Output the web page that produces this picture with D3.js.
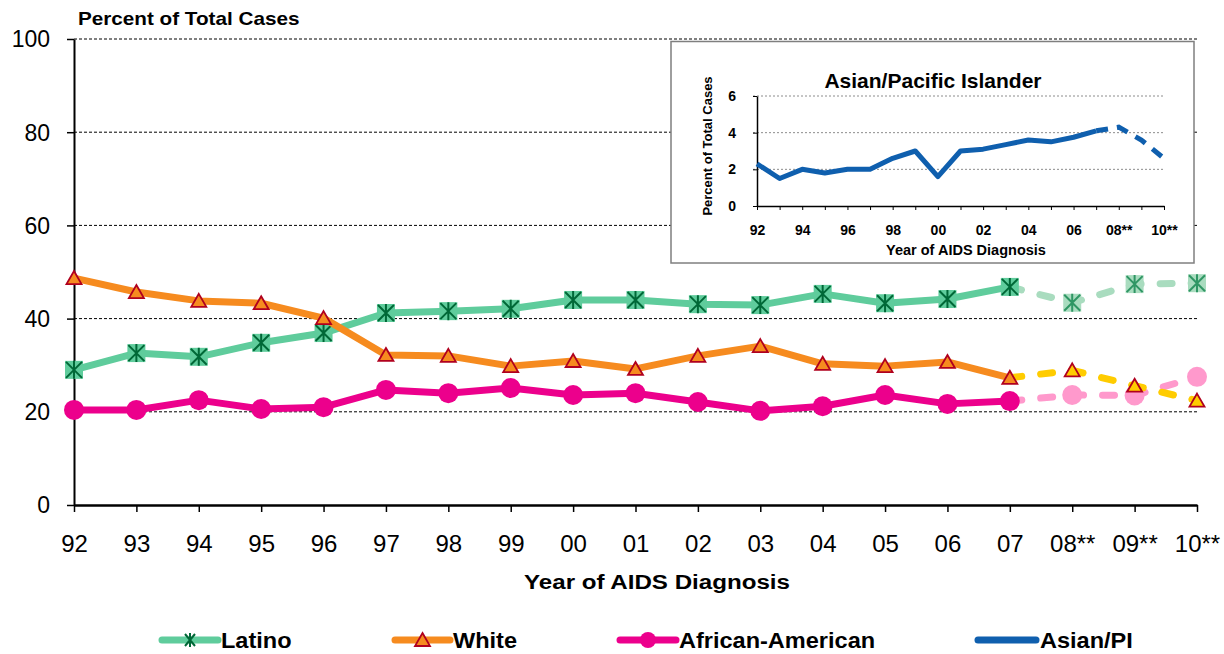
<!DOCTYPE html>
<html><head><meta charset="utf-8">
<script src="https://cdn.jsdelivr.net/npm/d3@7"></script>
<style>body{margin:0;background:#fff} svg{display:block;font-family:"Liberation Sans",Arial,sans-serif}</style>
</head><body><svg id="c" width="1224" height="654"></svg>
<script>
// ---- data ----
const years = ["92","93","94","95","96","97","98","99","00","01","02","03","04","05","06","07","08**","09**","10**"];
const latino  = [29.0,32.6,31.8,34.8,36.9,41.2,41.6,42.1,44.0,44.0,43.1,42.9,45.3,43.3,44.2,46.8,43.4,47.4,47.6];
const white   = [48.7,45.7,43.8,43.3,40.1,32.2,32.0,29.8,30.9,29.2,32.0,34.1,30.3,29.8,30.7,27.3,28.9,25.6,22.4];
const african = [20.4,20.4,22.5,20.6,21.0,24.7,24.0,25.1,23.6,24.0,22.1,20.2,21.2,23.6,21.7,22.3,23.6,23.5,27.5];
const asian   = [2.3,1.5,2.0,1.8,2.0,2.0,2.6,3.0,1.6,3.0,3.1,3.35,3.6,3.5,3.75,4.1,4.3,3.6,2.6];
const yTicks = [0,20,40,60,80,100];
const insetYTicks = [0,2,4,6];
const insetXLabels = ["92","94","96","98","00","02","04","06","08**","10**"];
const lastActual = "07";
const legendNames = ["Latino","White","African-American","Asian/PI"];

const svg = d3.select("#c");
const x = d3.scalePoint().domain(years).range([74,1197]);
const y = d3.scaleLinear().domain([0,100]).range([505,39]);

// gridlines
svg.append("g").selectAll("line").data(yTicks.filter(t=>t>0)).join("line")
  .attr("x1",74).attr("x2",1197).attr("y1",d=>y(d)).attr("y2",d=>y(d))
  .attr("stroke","#000").attr("stroke-width",1).attr("stroke-dasharray","3,2");

// axes
const yAx = svg.append("g").attr("transform","translate(74,0)")
  .call(d3.axisLeft(y).tickValues(yTicks).tickSize(7).tickSizeOuter(0).tickPadding(17));
yAx.select(".domain").attr("stroke","#000").attr("stroke-width",2);
yAx.selectAll(".tick line").attr("stroke","#000").attr("stroke-width",1.5);
yAx.selectAll("text").attr("font-size",23).attr("fill","#000").attr("dy","0.34em").style("font-family","'Liberation Sans',Arial,sans-serif");

const xAx = svg.append("g").attr("transform","translate(0,505)")
  .call(d3.axisBottom(x).tickSize(7).tickSizeOuter(0).tickPadding(23));
xAx.select(".domain").attr("stroke","#000").attr("stroke-width",2.5);
xAx.selectAll(".tick line").attr("stroke","#000").attr("stroke-width",1.5);
xAx.selectAll("text").attr("font-size",24).attr("fill","#000").style("font-family","'Liberation Sans',Arial,sans-serif");

// titles
function sText(parent, tx, ty, sx, txt, size, weight, anchor){
  return parent.append("g").attr("transform",`translate(${tx},${ty}) scale(${sx},1)`)
    .append("text").attr("font-size",size).attr("font-weight",weight||"normal")
    .attr("text-anchor",anchor||"start").attr("fill","#000").text(txt);
}
sText(svg,78,25,1.15,"Percent of Total Cases",18,"bold");
sText(svg,657,589,1.15,"Year of AIDS Diagnosis",21,"bold","middle");

// series
const idxLast = years.indexOf(lastActual);
function pts(arr){ return arr.map((v,i)=>({k:years[i],v:v,i:i})); }
const line = d3.line().x(d=>x(d.k)).y(d=>y(d.v));

function markLatino(g, fill, star, s){
  s = s||1;
  g.append("rect").attr("x",-9*s).attr("y",-9*s).attr("width",18*s).attr("height",18*s).attr("fill",fill);
  g.append("path").attr("d",`M${-8*s},${-8*s}L${8*s},${8*s}M${8*s},${-8*s}L${-8*s},${8*s}M0,${-9*s}L0,${9*s}`)
    .attr("stroke",star).attr("stroke-width",2).attr("fill","none");
}
function markTri(g, fill, s){
  s = s||1;
  g.append("path").attr("d",`M0,${-7*s}L${7.5*s},${6*s}L${-7.5*s},${6*s}Z`)
    .attr("fill",fill).attr("stroke","#b0001e").attr("stroke-width",1.8).attr("stroke-linejoin","miter");
}
function markCircle(g, fill, r){
  g.append("circle").attr("r",r||10).attr("fill",fill);
}

const series = [
  {data:latino, c:"#5fcc9c", pc:"#a9dcbf", mk:(g,proj)=>markLatino(g, proj?"#a9dcbf":"#5fcc9c", proj?"#2f9664":"#006837")},
  {data:african, c:"#ec008c", pc:"#ff99cc", mk:(g,proj)=>markCircle(g, proj?"#ff99cc":"#ec008c")},
  {data:white, c:"#f68b1f", pc:"#ffcc00", mk:(g,proj)=>markTri(g, proj?"#ffcc00":"#f68b1f")}
];
series.forEach(s=>{
  const p = pts(s.data);
  const g = svg.append("g");
  g.append("path").attr("d",line(p.slice(0,idxLast+1))).attr("fill","none")
    .attr("stroke",s.c).attr("stroke-width",7).attr("stroke-linejoin","round");
  g.append("path").attr("d",line(p.slice(idxLast))).attr("fill","none")
    .attr("stroke",s.pc).attr("stroke-width",7).attr("stroke-linecap","round")
    .attr("stroke-dasharray","12,19").attr("stroke-linejoin","round");
  p.forEach(d=>{
    const m = g.append("g").attr("transform",`translate(${x(d.k)},${y(d.v)})`);
    s.mk(m, d.i>idxLast);
  });
});

// legend
const lg = svg.append("g");
const legendItems = [
  {x1:162,x2:218,tx:221,c:"#5fcc9c",mk:g=>{g.append("path").attr("d","M-5,-6L5,6M5,-6L-5,6M0,-7L0,7").attr("stroke","#006837").attr("stroke-width",2);}},
  {x1:395,x2:450,tx:453,c:"#f68b1f",mk:g=>markTri(g,"#f68b1f",1)},
  {x1:620,x2:676,tx:679,c:"#ec008c",mk:g=>markCircle(g,"#ec008c",8)},
  {x1:978,x2:1036,tx:1040,c:"#0f5fae",mk:null}
];
legendItems.forEach((it,i)=>{
  lg.append("line").attr("x1",it.x1).attr("x2",it.x2).attr("y1",640).attr("y2",640)
    .attr("stroke",it.c).attr("stroke-width",7).attr("stroke-linecap","round");
  if(it.mk){ const m = lg.append("g").attr("transform",`translate(${(it.x1+it.x2)/2},640)`); it.mk(m); }
  sText(lg,it.tx,648,1.07,legendNames[i],22,"bold");
});

// ---- inset ----
const ins = svg.append("g");
ins.append("rect").attr("x",671).attr("y",41.5).attr("width",523).attr("height",221.5)
  .attr("fill","#fff").attr("stroke","#7f7f7f").attr("stroke-width",1.5);
const ix = d3.scalePoint().domain(years).range([757,1164]);
const iy = d3.scaleLinear().domain([0,6]).range([206,96]);
ins.append("g").selectAll("line").data(insetYTicks.filter(t=>t>0)).join("line")
  .attr("x1",753).attr("x2",1164).attr("y1",d=>iy(d)).attr("y2",d=>iy(d))
  .attr("stroke","#8c8c8c").attr("stroke-width",1).attr("stroke-dasharray","2,2");
const iyAx = ins.append("g").attr("transform","translate(757,0)")
  .call(d3.axisLeft(iy).tickValues(insetYTicks).tickFormat(d3.format("d")).tickSize(4).tickSizeOuter(0).tickPadding(17));
iyAx.select(".domain").attr("stroke","#000").attr("stroke-width",1.5);
iyAx.selectAll(".tick line").attr("stroke","#000");
iyAx.selectAll("text").attr("font-size",14).attr("font-weight","bold").attr("fill","#000").style("font-family","'Liberation Sans',Arial,sans-serif");
const ixAx = ins.append("g").attr("transform","translate(0,206)")
  .call(d3.axisBottom(ix).tickSize(4).tickSizeOuter(0).tickPadding(15).tickFormat(d=>insetXLabels.includes(d)?d:""));
ixAx.select(".domain").attr("stroke","#000").attr("stroke-width",1.5);
ixAx.selectAll(".tick line").attr("stroke","#000");
ixAx.selectAll("text").attr("font-size",14).attr("font-weight","bold").attr("fill","#000").style("font-family","'Liberation Sans',Arial,sans-serif");

const iline = d3.line().x(d=>ix(d.k)).y(d=>iy(d.v));
const ap = pts(asian);
ins.append("path").attr("d",iline(ap.slice(0,idxLast+1))).attr("fill","none")
  .attr("stroke","#0f5fae").attr("stroke-width",5).attr("stroke-linejoin","round");
ins.append("path").attr("d",iline(ap.slice(idxLast))).attr("fill","none")
  .attr("stroke","#0f5fae").attr("stroke-width",5).attr("stroke-dasharray","12,9");

ins.append("text").attr("x",933).attr("y",88).attr("text-anchor","middle").attr("font-size",21)
  .attr("font-weight","bold").text("Asian/Pacific Islander");
ins.append("text").attr("x",966).attr("y",255).attr("text-anchor","middle").attr("font-size",14.5)
  .attr("font-weight","bold").text("Year of AIDS Diagnosis");
ins.append("text").attr("transform","translate(712,146) rotate(-90)").attr("text-anchor","middle")
  .attr("font-size",13).attr("font-weight","bold").text("Percent of Total Cases");
</script></body></html>
